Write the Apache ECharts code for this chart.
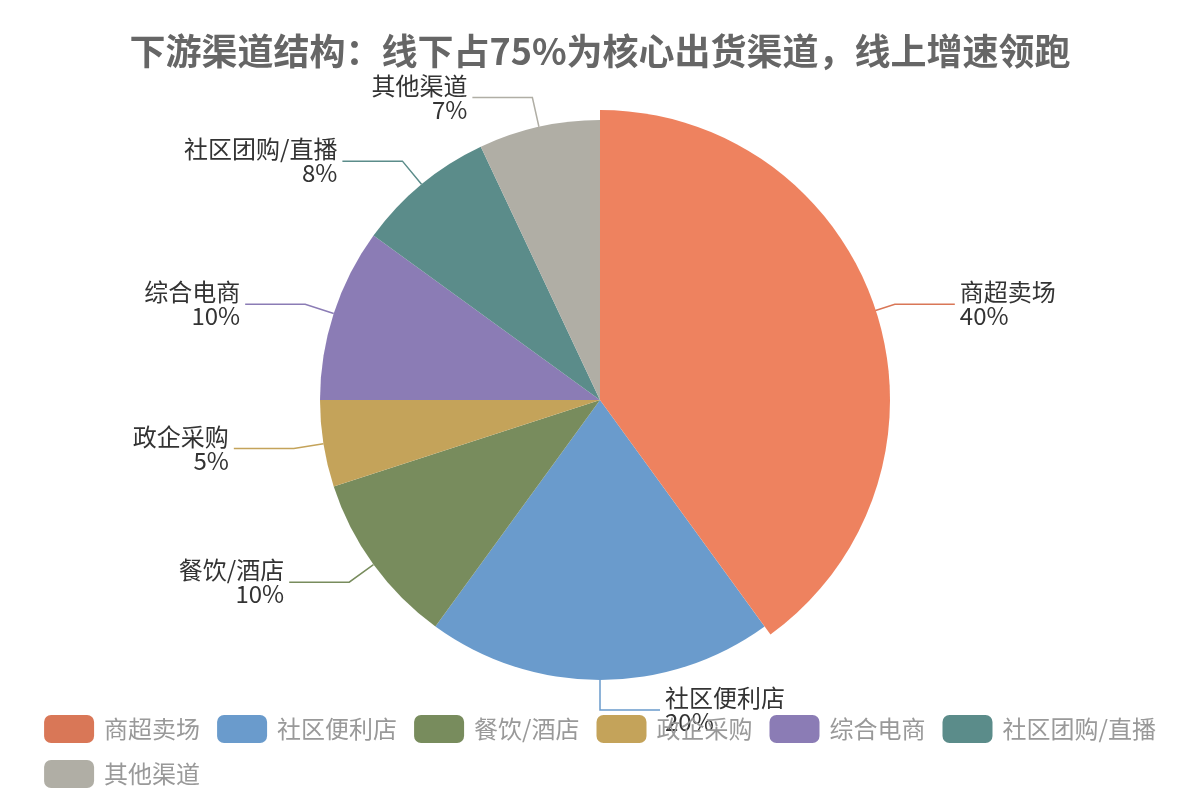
<!DOCTYPE html>
<html>
<head>
<meta charset="utf-8">
<script src="https://cdn.jsdelivr.net/npm/echarts@6/dist/echarts.min.js"></script>
<style>html,body{margin:0;padding:0;background:#fff}#c{width:1200px;height:800px}</style>
</head>
<body>
<div id="c"></div>
<script>
const titleText = '下游渠道结构：线下占75%为核心出货渠道，线上增速领跑';
const categories = ['商超卖场', '社区便利店', '餐饮/酒店', '政企采购', '综合电商', '社区团购/直播', '其他渠道'];
const values = [40, 20, 10, 5, 10, 8, 7];
const colors = ['#D97757', '#6A9BCC', '#788C5D', '#C4A35A', '#8B7CB5', '#5B8C8A', '#B0AEA5'];

const chart = echarts.init(document.getElementById('c'));
chart.setOption({
  animation: false,
  textStyle: { fontFamily: '"Noto Sans CJK SC", "Noto Sans", sans-serif' },
  color: colors,
  title: {
    text: titleText,
    left: 'center',
    top: 28,
    textStyle: { fontSize: 36, fontWeight: 'bold', color: '#666' }
  },
  legend: {
    bottom: 7,
    left: 'center',
    itemWidth: 50,
    itemHeight: 28,
    itemGap: 17,
    icon: 'roundRect',
    textStyle: { fontSize: 24, color: '#999', padding: [0, 0, 0, 5] },
    data: categories
  },
  series: [{
    type: 'pie',
    radius: '70%',
    center: ['50%', '50%'],
    startAngle: 90,
    data: categories.map((n, i) => ({ name: n, value: values[i] })),
    label: {
      formatter: '{b}\n{d}%',
      fontSize: 24,
      lineHeight: 24,
      color: '#333'
    },
    labelLine: { length: 30, length2: 60, lineStyle: { width: 1.5 } },
    emphasis: { scale: true, scaleSize: 10 }
  }]
});
chart.dispatchAction({ type: 'highlight', seriesIndex: 0, dataIndex: 0 });
</script>
</body>
</html>
